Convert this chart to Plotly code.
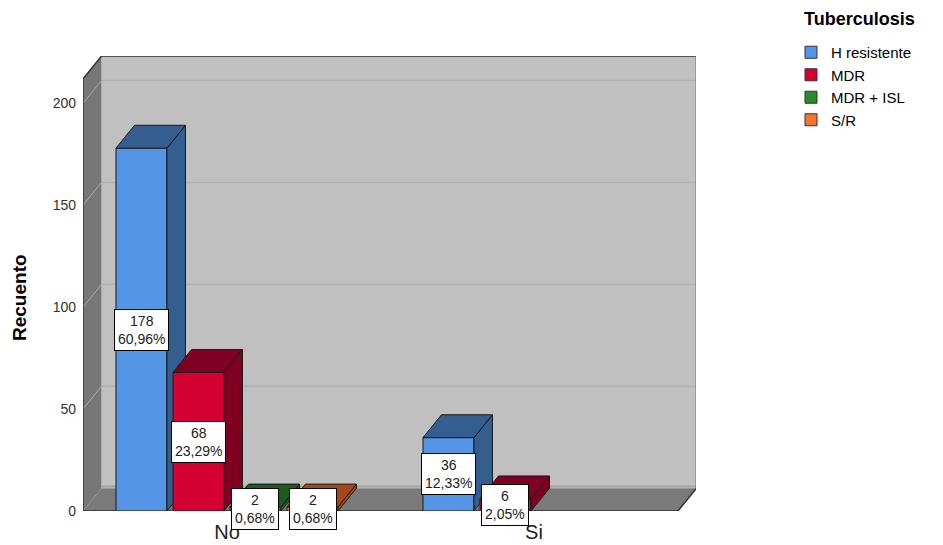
import plotly.graph_objects as go

# Counts of patients by group (No / Si) and tuberculosis type
groups = ["No", "Si"]
series = ["H resistente", "MDR", "MDR + ISL", "S/R"]
counts = {
    "H resistente": [178, 36],
    "MDR": [68, 6],
    "MDR + ISL": [2, 0],
    "S/R": [2, 0],
}
y_ticks = [0, 50, 100, 150, 200]

# Face colours: front face and shaded side/top faces
front_colors = {
    "H resistente": "#5595e5",
    "MDR": "#d50032",
    "MDR + ISL": "#2b8a2b",
    "S/R": "#f37533",
}
shade_colors = {
    "H resistente": "#345d90",
    "MDR": "#7f0020",
    "MDR + ISL": "#1d5a1d",
    "S/R": "#a5471a",
}

# Pseudo-3D geometry (axis units)
BAR_W = 0.166          # bar width
STEP = 0.1857          # distance between bar centres within a group
DX = 0.0603            # depth offset along x
DY = 11.2              # depth offset along y
X0, X1 = -0.469, 1.469 # front floor edges
WALL_TOP = 212.0       # front height of the left wall

PLOT_W, PLOT_H = 613, 455
M_L, M_T = 83, 56

total = sum(sum(v) for v in counts.values())

fig = go.Figure()

# Walls and floor
shapes = []
back = f"M{X0+DX},{DY} L{X1+DX},{DY} L{X1+DX},{WALL_TOP+DY} L{X0+DX},{WALL_TOP+DY} Z"
shapes.append(dict(type="path", path=back, fillcolor="#c0c0c0", line=dict(width=0), layer="below"))
left = f"M{X0},0 L{X0+DX},{DY} L{X0+DX},{WALL_TOP+DY} L{X0},{WALL_TOP} Z"
shapes.append(dict(type="path", path=left, fillcolor="#777777", line=dict(width=0), layer="below"))
floor = f"M{X0},0 L{X1},0 L{X1+DX},{DY} L{X0+DX},{DY} Z"
shapes.append(dict(type="path", path=floor, fillcolor="#7a7a7a", line=dict(width=0), layer="below"))
# lighter seam along the back edge of the floor
shapes.append(dict(type="line", x0=X0 + DX, x1=X1 + DX, y0=DY + 0.8, y1=DY + 0.8,
                   line=dict(color="#a4a4a4", width=2), layer="below"))
# grid lines on the left and back walls
for t in y_ticks[1:]:
    shapes.append(dict(type="line", x0=X0 + DX, x1=X1 + DX, y0=t + DY, y1=t + DY,
                       line=dict(color="#b2b2b2", width=1.5), layer="below"))
    shapes.append(dict(type="line", x0=X0, x1=X0 + DX, y0=t, y1=t + DY,
                       line=dict(color="#a8a8a8", width=1), layer="below"))
# outline edges
edge = dict(color="#333333", width=1.5)
shapes.append(dict(type="path", path=f"M{X0},0 L{X0},{WALL_TOP} L{X0+DX},{WALL_TOP+DY} L{X1+DX},{WALL_TOP+DY} L{X1+DX},{DY} L{X1},0 Z",
                   line=edge, layer="below"))

# Bars: front, side and top faces drawn left to right
annotations = []
for gi, g in enumerate(groups):
    for si, s in enumerate(series):
        v = counts[s][gi]
        if v <= 0:
            continue
        xc = gi + (si - 1.5) * STEP
        xl, xr = xc - BAR_W / 2, xc + BAR_W / 2
        outline = dict(color="#1a1a1a", width=1)
        # front
        fig.add_trace(go.Scatter(x=[xl, xr, xr, xl, xl], y=[0, 0, v, v, 0], fill="toself",
                                 fillcolor=front_colors[s], line=outline, mode="lines",
                                 showlegend=False, hoverinfo="skip"))
        # side
        fig.add_trace(go.Scatter(x=[xr, xr + DX, xr + DX, xr, xr], y=[0, DY, v + DY, v, 0], fill="toself",
                                 fillcolor=shade_colors[s], line=outline, mode="lines",
                                 showlegend=False, hoverinfo="skip"))
        # top
        fig.add_trace(go.Scatter(x=[xl, xr, xr + DX, xl + DX, xl], y=[v, v, v + DY, v + DY, v], fill="toself",
                                 fillcolor=shade_colors[s], line=outline, mode="lines",
                                 showlegend=False, hoverinfo="skip"))
        pct = f"{100 * v / total:.2f}".replace(".", ",")
        annotations.append(dict(x=xc, y=v / 2, xref="x", yref="y", text=f"{v}<br>{pct}%",
                                showarrow=False, bgcolor="white", bordercolor="#000000",
                                borderwidth=1, borderpad=3,
                                font=dict(family="Liberation Sans, Arial", size=14, color="#222222")))

# Legend entries
for s in series:
    fig.add_trace(go.Bar(x=[None], y=[None], name=s,
                         marker=dict(color=front_colors[s], line=dict(color="#333333", width=1))))

# Axis title and legend heading
annotations.append(dict(x=(19 - M_L) / PLOT_W, y=(511 - 298) / PLOT_H, xref="paper", yref="paper",
                        text="<b>Recuento</b>", textangle=-90, showarrow=False,
                        xanchor="center", yanchor="middle",
                        font=dict(family="Liberation Sans, Arial", size=19, color="#000000")))
annotations.append(dict(x=(802 - M_L) / PLOT_W, y=(511 - 19) / PLOT_H, xref="paper", yref="paper",
                        text="<b>Tuberculosis</b>", showarrow=False,
                        xanchor="left", yanchor="middle",
                        font=dict(family="Liberation Sans, Arial", size=18, color="#000000")))

fig.update_layout(
    width=943, height=545,
    margin=dict(l=M_L, r=943 - M_L - PLOT_W, t=M_T, b=545 - M_T - PLOT_H, autoexpand=False),
    paper_bgcolor="white", plot_bgcolor="white",
    shapes=shapes, annotations=annotations,
    xaxis=dict(range=[X0, X0 + PLOT_W / 307], tickvals=[0, 1], ticktext=groups, showgrid=False,
               zeroline=False, showline=False, ticks="", fixedrange=True, automargin=False,
               ticklabelstandoff=7,
               tickfont=dict(family="Liberation Sans, Arial", size=20, color="#222222")),
    yaxis=dict(range=[0, WALL_TOP + DY], tickvals=y_ticks, showgrid=False, zeroline=False,
               showline=False, ticks="", ticklabelstandoff=6, fixedrange=True, automargin=False,
               tickfont=dict(family="Liberation Sans, Arial", size=14, color="#333333")),
    legend=dict(x=(791 - M_L) / PLOT_W, y=(511 - 36) / PLOT_H, xanchor="left", yanchor="top",
                bgcolor="rgba(0,0,0,0)", tracegroupgap=0,
                font=dict(family="Liberation Sans, Arial", size=15, color="#000000")),
    showlegend=True,
)

fig.write_html("out.html")
